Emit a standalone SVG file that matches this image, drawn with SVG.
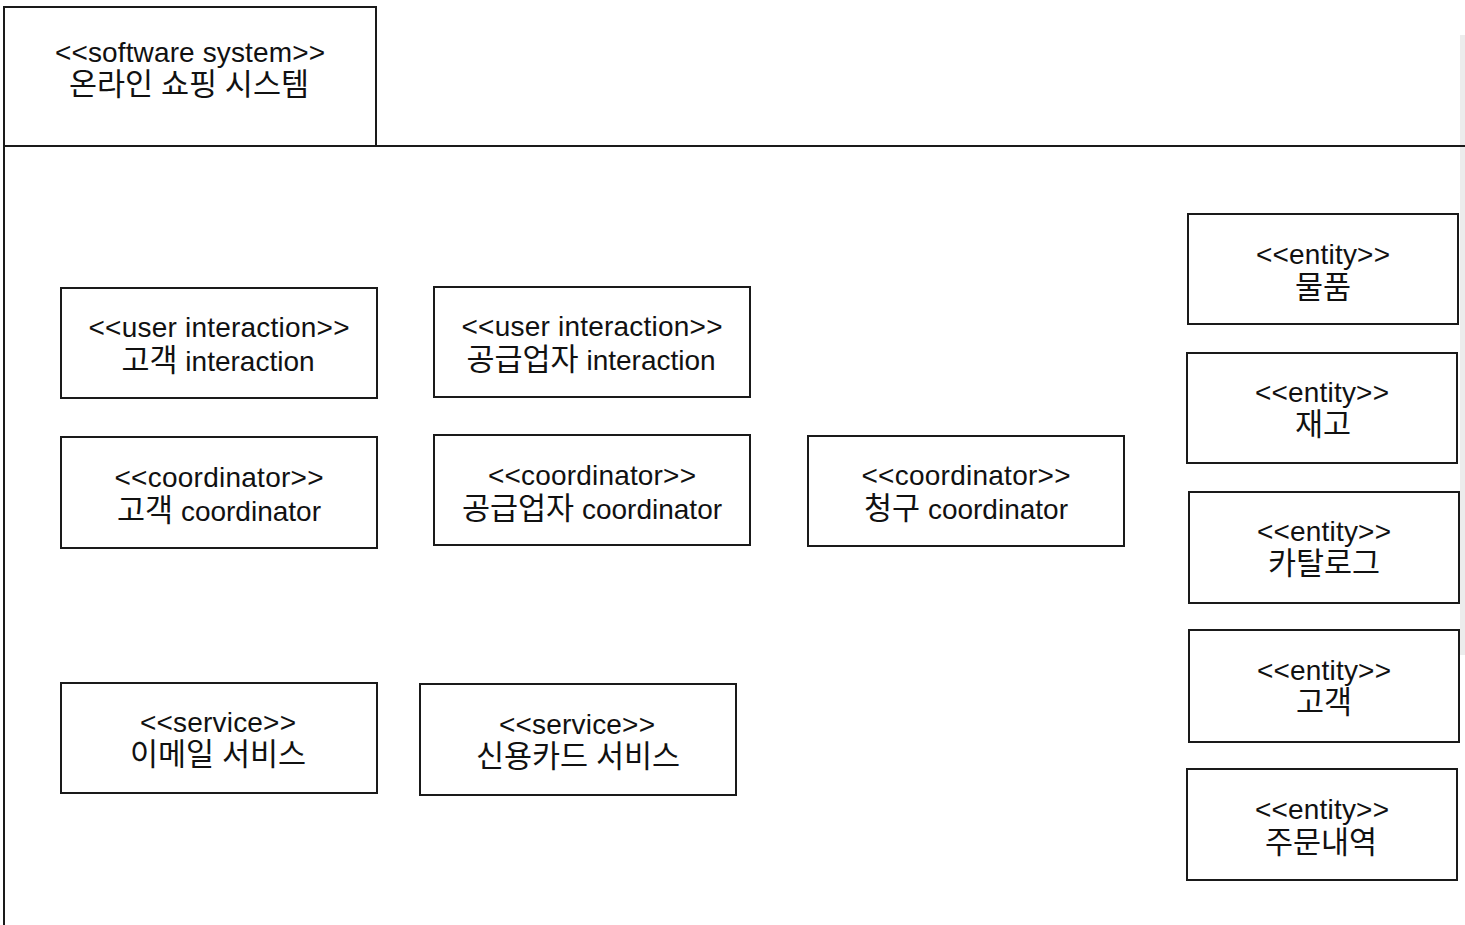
<svg xmlns="http://www.w3.org/2000/svg" width="1465" height="925" viewBox="0 0 1465 925">
<style>
.box{fill:#ffffff;stroke:#1a1a1a;stroke-width:2}
.frame{fill:none;stroke:#1a1a1a;stroke-width:2}
text{font-family:"Liberation Sans","Noto Sans CJK KR",sans-serif;font-size:28px;fill:#111111;text-anchor:middle}
.h{font-size:30.5px}
</style>
<rect x="0" y="0" width="1465" height="925" fill="#ffffff"/>
<rect x="1460" y="35" width="5" height="620" fill="#ececec"/>
<g id="system-frame">
<path class="frame" d="M4,925 V7 H376 V146 M4,146 H1465"/>
<text x="190" y="62" textLength="270">&lt;&lt;software system&gt;&gt;</text>
<text x="189" y="95"><tspan class="h">온라인</tspan> <tspan class="h">쇼핑</tspan> <tspan class="h">시스템</tspan></text>
</g>
<g id="connectors"></g>
<g id="customer-interaction">
<rect class="box" x="61" y="288" width="316" height="110"/>
<text x="219" y="337" textLength="261">&lt;&lt;user interaction&gt;&gt;</text>
<text x="218" y="371"><tspan class="h">고객</tspan> interaction</text>
</g>
<g id="supplier-interaction">
<rect class="box" x="434" y="287" width="316" height="110"/>
<text x="592" y="336" textLength="261">&lt;&lt;user interaction&gt;&gt;</text>
<text x="591" y="370"><tspan class="h">공급업자</tspan> interaction</text>
</g>
<g id="customer-coordinator">
<rect class="box" x="61" y="437" width="316" height="111"/>
<text x="219" y="487" textLength="209">&lt;&lt;coordinator&gt;&gt;</text>
<text x="219" y="521"><tspan class="h">고객</tspan> coordinator</text>
</g>
<g id="supplier-coordinator">
<rect class="box" x="434" y="435" width="316" height="110"/>
<text x="592" y="485" textLength="208">&lt;&lt;coordinator&gt;&gt;</text>
<text x="592" y="519"><tspan class="h">공급업자</tspan> coordinator</text>
</g>
<g id="billing-coordinator">
<rect class="box" x="808" y="436" width="316" height="110"/>
<text x="966" y="485" textLength="209">&lt;&lt;coordinator&gt;&gt;</text>
<text x="966" y="519"><tspan class="h">청구</tspan> coordinator</text>
</g>
<g id="email-service">
<rect class="box" x="61" y="683" width="316" height="110"/>
<text x="218" y="732" textLength="156">&lt;&lt;service&gt;&gt;</text>
<text x="218" y="765"><tspan class="h">이메일</tspan> <tspan class="h">서비스</tspan></text>
</g>
<g id="creditcard-service">
<rect class="box" x="420" y="684" width="316" height="111"/>
<text x="577" y="734" textLength="156">&lt;&lt;service&gt;&gt;</text>
<text x="578" y="767"><tspan class="h">신용카드</tspan> <tspan class="h">서비스</tspan></text>
</g>
<g id="entity-item">
<rect class="box" x="1188" y="214" width="270" height="110"/>
<text x="1323" y="264" textLength="134">&lt;&lt;entity&gt;&gt;</text>
<text class="h" x="1323" y="298">물품</text>
</g>
<g id="entity-inventory">
<rect class="box" x="1187" y="353" width="270" height="110"/>
<text x="1322" y="402" textLength="134">&lt;&lt;entity&gt;&gt;</text>
<text class="h" x="1323" y="435">재고</text>
</g>
<g id="entity-catalog">
<rect class="box" x="1189" y="492" width="270" height="111"/>
<text x="1324" y="541" textLength="134">&lt;&lt;entity&gt;&gt;</text>
<text class="h" x="1324" y="574">카탈로그</text>
</g>
<g id="entity-customer">
<rect class="box" x="1189" y="630" width="270" height="112"/>
<text x="1324" y="680" textLength="134">&lt;&lt;entity&gt;&gt;</text>
<text class="h" x="1324" y="713">고객</text>
</g>
<g id="entity-orders">
<rect class="box" x="1187" y="769" width="270" height="111"/>
<text x="1322" y="819" textLength="134">&lt;&lt;entity&gt;&gt;</text>
<text class="h" x="1321" y="853">주문내역</text>
</g>
</svg>
